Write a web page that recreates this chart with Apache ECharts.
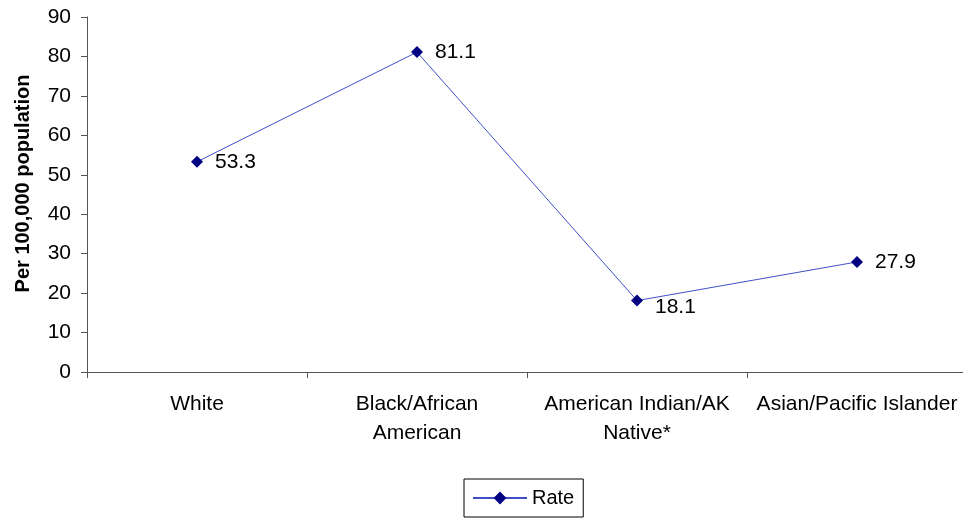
<!DOCTYPE html>
<html>
<head>
<meta charset="utf-8">
<script src="https://cdn.jsdelivr.net/npm/echarts@6/dist/echarts.min.js"></script>
<style>html,body{margin:0;padding:0;background:#fff;}#c{width:963px;height:518px;}</style>
</head>
<body>
<div id="c"></div>
<script>
const categories = ["White", "Black/African\nAmerican", "American Indian/AK\nNative*", "Asian/Pacific Islander"];
const rateValues = [53.3, 81.1, 18.1, 27.9];
const yTicks = [0, 10, 20, 30, 40, 50, 60, 70, 80, 90];
const seriesName = "Rate";
const yAxisTitle = "Per 100,000 population";

const FONT = "'Liberation Sans', Arial, sans-serif";
const chart = echarts.init(document.getElementById('c'), null, {renderer: 'canvas'});
chart.setOption({
  animation: false,
  backgroundColor: '#ffffff',
  textStyle: {fontFamily: FONT, color: '#000'},
  grid: {left: 87, top: 17, width: 880, bottom: 146, containLabel: false, outerBoundsMode: 'none'},
  legend: {
    data: [seriesName],
    left: 464, top: 479,
    padding: [9, 9, 9, 8],
    borderColor: '#000', borderWidth: 1, backgroundColor: '#fff',
    itemWidth: 54, itemHeight: 16,
    textStyle: {fontFamily: FONT, fontSize: 20, color: '#000'}
  },
  xAxis: {
    type: 'category',
    data: categories,
    boundaryGap: true,
    axisLine: {lineStyle: {color: '#555', width: 1}},
    axisTick: {show: true, length: 6, lineStyle: {color: '#555'}},
    axisLabel: {interval: 0, fontFamily: FONT, fontSize: 21, color: '#000', margin: 18, lineHeight: 29, align: 'center'},
    splitLine: {show: false}
  },
  yAxis: {
    type: 'value',
    min: yTicks[0], max: yTicks[yTicks.length - 1], interval: 10,
    name: yAxisTitle,
    nameLocation: 'middle',
    nameGap: 54,
    nameTextStyle: {fontFamily: FONT, fontSize: 20, fontWeight: 'bold', color: '#000', padding: [0, 0, 0, 22]},
    axisLine: {show: true, lineStyle: {color: '#555', width: 1}},
    axisTick: {show: true, length: 6, lineStyle: {color: '#555'}},
    axisLabel: {fontFamily: FONT, fontSize: 21, color: '#000', margin: 16},
    splitLine: {show: false}
  },
  series: [{
    name: seriesName,
    type: 'line',
    data: rateValues.map((v, i) => ({value: v, label: i === 2 ? {offset: [0, 7]} : {}})),
    symbol: 'diamond',
    symbolSize: 12,
    itemStyle: {color: '#000080'},
    lineStyle: {color: '#4050c8', width: 1},
    label: {show: true, position: 'right', distance: 12, fontFamily: FONT, fontSize: 21, color: '#000'}
  }]
});
</script>
</body>
</html>
